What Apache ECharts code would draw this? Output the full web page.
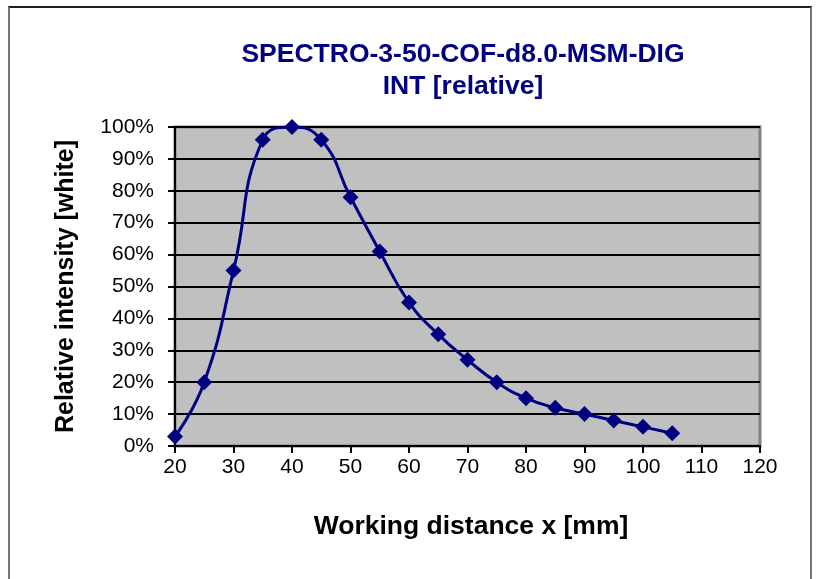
<!DOCTYPE html>
<html>
<head>
<meta charset="utf-8">
<script src="https://cdn.jsdelivr.net/npm/echarts@6/dist/echarts.min.js"></script>
<style>
html,body{margin:0;padding:0;background:#fff;}
#frame{position:absolute;left:8px;top:6px;width:804px;height:600px;border-top:2px solid #222;border-left:2px solid #777;border-right:2px solid #777;box-sizing:border-box;}
#chart{position:absolute;left:0;top:0;width:819px;height:579px;}
</style>
</head>
<body>
<div id="frame"></div>
<div id="chart"></div>
<script>
const distances = [20,25,30,35,40,45,50,55,60,65,70,75,80,85,90,95,100,105];
const intensity = [3,20,55,96,100,96,78,61,45,35,27,20,15,12,10,8,6,4];
const titleLines = ['SPECTRO-3-50-COF-d8.0-MSM-DIG','INT [relative]'];
const xName = 'Working distance x [mm]';
const yName = 'Relative intensity [white]';

const chart = echarts.init(document.getElementById('chart'));
const font = 'Liberation Sans, Arial, sans-serif';
chart.setOption({
  animation:false,
  backgroundColor:'transparent',
  title:{
    text:titleLines.join('\n'),
    left:458, top:34, textAlign:'center',
    textStyle:{color:'#000080',fontFamily:font,fontWeight:'bold',fontSize:26.5,lineHeight:32}
  },
  grid:{left:175,right:59,top:127,bottom:133,show:true,backgroundColor:'#C0C0C0',borderColor:'#808080',borderWidth:3},
  xAxis:{
    type:'value',min:20,max:120,interval:10,
    name:xName,nameLocation:'middle',nameGap:67,nameMoveOverlap:false,
    nameTextStyle:{fontFamily:font,fontWeight:'bold',fontSize:26.5,color:'#000',padding:[0,0,0,7]},
    axisLine:{show:true,onZero:false,lineStyle:{color:'#000',width:2}},
    axisTick:{show:true,length:7,lineStyle:{color:'#000',width:2}},
    axisLabel:{fontFamily:font,fontSize:21,color:'#000',margin:11},
    splitLine:{show:false}
  },
  yAxis:{
    type:'value',min:0,max:100,interval:10,
    name:yName,nameLocation:'middle',nameGap:96,nameMoveOverlap:false,
    nameTextStyle:{fontFamily:font,fontWeight:'bold',fontSize:25,color:'#000'},
    axisLine:{show:true,lineStyle:{color:'#000',width:2}},
    axisTick:{show:true,length:7,lineStyle:{color:'#000',width:2}},
    axisLabel:{fontFamily:font,fontSize:21,color:'#000',margin:21,formatter:'{value}%'},
    splitLine:{show:true,lineStyle:{color:'#000',width:2}}
  },
  series:[{
    type:'line',
    data:distances.map((d,i)=>[d,intensity[i]]),
    smooth:0.5,
    symbol:'diamond',symbolSize:16,
    lineStyle:{color:'#000080',width:3},
    itemStyle:{color:'#000080'},
    z:5
  }]
});
</script>
</body>
</html>
